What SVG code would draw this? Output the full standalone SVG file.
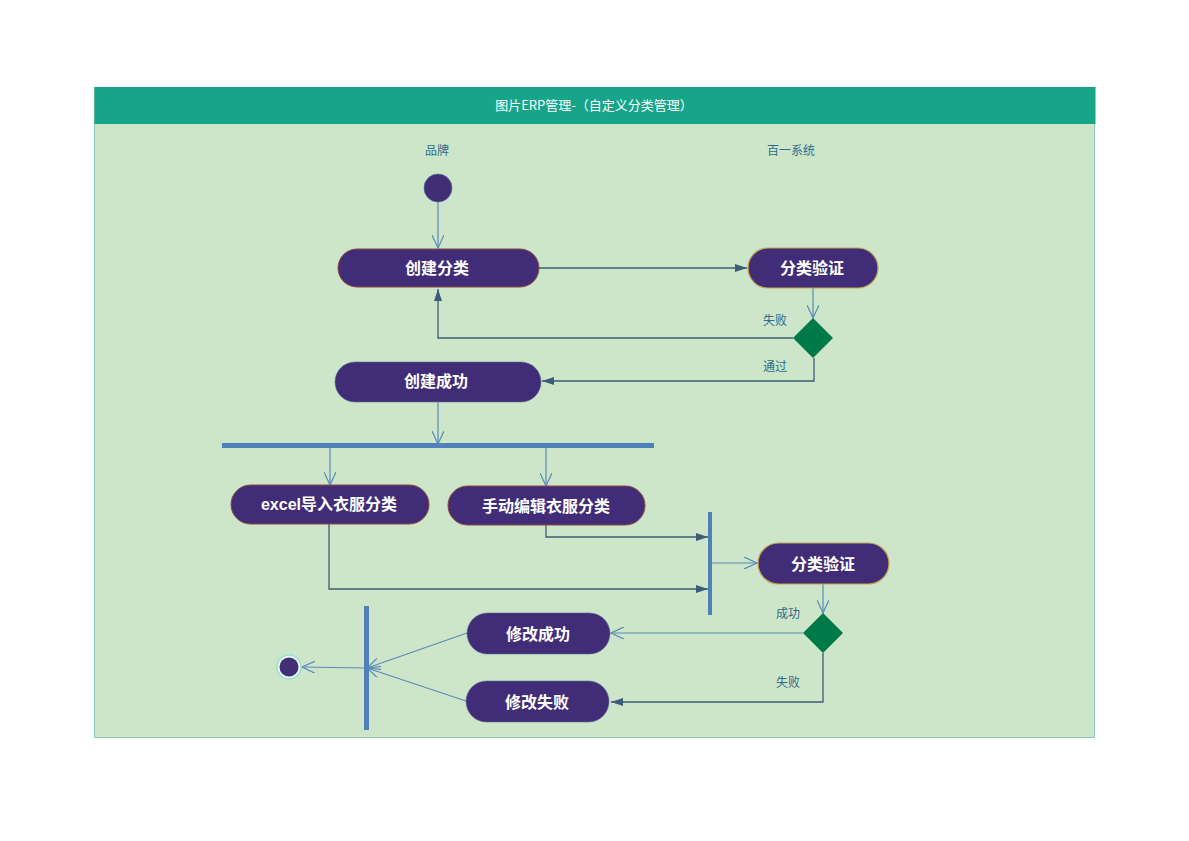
<svg xmlns="http://www.w3.org/2000/svg" width="1189" height="841" viewBox="0 0 1189 841">
<defs>
<style>
.lbl{font-family:"Noto Sans CJK SC","Liberation Sans",sans-serif;font-size:12px;fill:#2f6a8c;text-anchor:middle;}
.nt{font-family:"Liberation Sans","Noto Sans CJK SC",sans-serif;font-size:16px;font-weight:bold;fill:#ffffff;text-anchor:middle;dominant-baseline:central;}
.act{fill:#412d77;stroke:#8c4a3c;stroke-width:1;}
.actg{fill:#412d77;stroke:#c9a24e;stroke-width:1.2;}
.acts{fill:#412d77;stroke:#5a6a8a;stroke-width:0.6;}
.dec{fill:#007a48;}
.bar{fill:#4f80ba;}
.cf{fill:none;stroke:#3d5c78;stroke-width:1.3;}
.co{fill:none;stroke:#5b8ab8;stroke-width:1.2;}
</style>
<marker id="mf" viewBox="0 0 12 8" refX="12" refY="4" markerWidth="12" markerHeight="8" markerUnits="userSpaceOnUse" orient="auto">
<path d="M0,0 L12,4 L0,8 Z" fill="#3d5c78"/>
</marker>
<marker id="mo" viewBox="0 0 14 12" refX="13" refY="6" markerWidth="14" markerHeight="12" markerUnits="userSpaceOnUse" orient="auto">
<path d="M0,0 L13,6 L0,12" fill="none" stroke="#5b8ab8" stroke-width="1.2"/>
</marker>
</defs>
<rect width="1189" height="841" fill="#ffffff"/>
<g id="frame">
<rect x="94.5" y="87.5" width="1000" height="650" fill="#cde6c9" stroke="#8ec9b2" stroke-width="1"/>
<rect x="94.5" y="87" width="1001" height="37" fill="#17a589"/>
<text x="594" y="110" font-family="Noto Sans CJK SC,Liberation Sans,sans-serif" font-size="13" fill="#ffffff" text-anchor="middle">图片ERP管理-（自定义分类管理）</text>
<text class="lbl" x="437" y="155">品牌</text>
<text class="lbl" x="791" y="155">百一系统</text>
</g>
<g id="connectors">
<line class="co" x1="438" y1="202" x2="438" y2="248" marker-end="url(#mo)"/>
<line class="cf" x1="539" y1="268" x2="747" y2="268" marker-end="url(#mf)"/>
<line class="co" x1="813" y1="288" x2="813" y2="318" marker-end="url(#mo)"/>
<polyline class="cf" points="793,338 438,338 438,289" marker-end="url(#mf)"/>
<text class="lbl" x="775" y="325">失败</text>
<polyline class="cf" points="814,358 814,381 542,381" marker-end="url(#mf)"/>
<text class="lbl" x="775" y="371">通过</text>
<line class="co" x1="438" y1="402" x2="438" y2="444" marker-end="url(#mo)"/>
<line class="co" x1="330" y1="447" x2="330" y2="485" marker-end="url(#mo)"/>
<line class="co" x1="546" y1="447" x2="546" y2="486" marker-end="url(#mo)"/>
<polyline class="cf" points="546,525 546,537 708,537" marker-end="url(#mf)"/>
<polyline class="cf" points="329,524 329,589 708,589" marker-end="url(#mf)"/>
<line class="co" x1="712" y1="563" x2="757" y2="563" marker-end="url(#mo)"/>
<line class="co" x1="823" y1="584" x2="823" y2="613" marker-end="url(#mo)"/>
<text class="lbl" x="788" y="618">成功</text>
<line class="co" x1="803" y1="633" x2="611" y2="633" marker-end="url(#mo)"/>
<polyline class="cf" points="823,653 823,702 611,702" marker-end="url(#mf)"/>
<text class="lbl" x="788" y="687">失败</text>
<line class="co" x1="467" y1="633" x2="367" y2="668" marker-end="url(#mo)"/>
<line class="co" x1="466" y1="701" x2="367" y2="668" marker-end="url(#mo)"/>
<line class="co" x1="366" y1="668" x2="302" y2="667" marker-end="url(#mo)"/>
</g>
<g id="start"><circle cx="438" cy="188" r="14" fill="#412f75" stroke="#5b6a9a" stroke-width="0.6"/></g>
<g id="n1"><rect class="act" x="338" y="249" width="201" height="38" rx="19"/><text class="nt" x="437" y="268">创建分类</text></g>
<g id="n2"><rect class="actg" x="748" y="248" width="130" height="40" rx="20"/><text class="nt" x="812" y="268">分类验证</text></g>
<g id="d1"><polygon class="dec" points="813,318 833,338 813,358 793,338"/></g>
<g id="n3"><rect class="acts" x="335" y="362" width="206" height="40" rx="20"/><text class="nt" x="436" y="381">创建成功</text></g>
<g id="fork1"><rect class="bar" x="222" y="443" width="432" height="5"/></g>
<g id="n4"><rect class="act" x="231" y="485" width="198" height="39" rx="19.5"/><text class="nt" x="329" y="504">excel导入衣服分类</text></g>
<g id="n5"><rect class="act" x="448" y="486" width="197" height="39" rx="19.5"/><text class="nt" x="546" y="506">手动编辑衣服分类</text></g>
<g id="join1"><rect class="bar" x="708" y="512" width="4" height="103"/></g>
<g id="n6"><rect class="actg" x="758" y="543" width="131" height="41" rx="20.5"/><text class="nt" x="823" y="564">分类验证</text></g>
<g id="d2"><polygon class="dec" points="823,613 843,633 823,653 803,633"/></g>
<g id="n7"><rect class="acts" x="467" y="613" width="143" height="41" rx="20.5"/><text class="nt" x="538" y="634">修改成功</text></g>
<g id="n8"><rect class="acts" x="466" y="681" width="143" height="41" rx="20.5"/><text class="nt" x="537" y="702">修改失败</text></g>
<g id="join2"><rect class="bar" x="364" y="606" width="5" height="124"/></g>
<g id="end"><circle cx="289" cy="667" r="12" fill="#e6f7f3" stroke="#9fded2" stroke-width="1.5"/><circle cx="289" cy="667" r="9.5" fill="#412f75"/></g>
</svg>
